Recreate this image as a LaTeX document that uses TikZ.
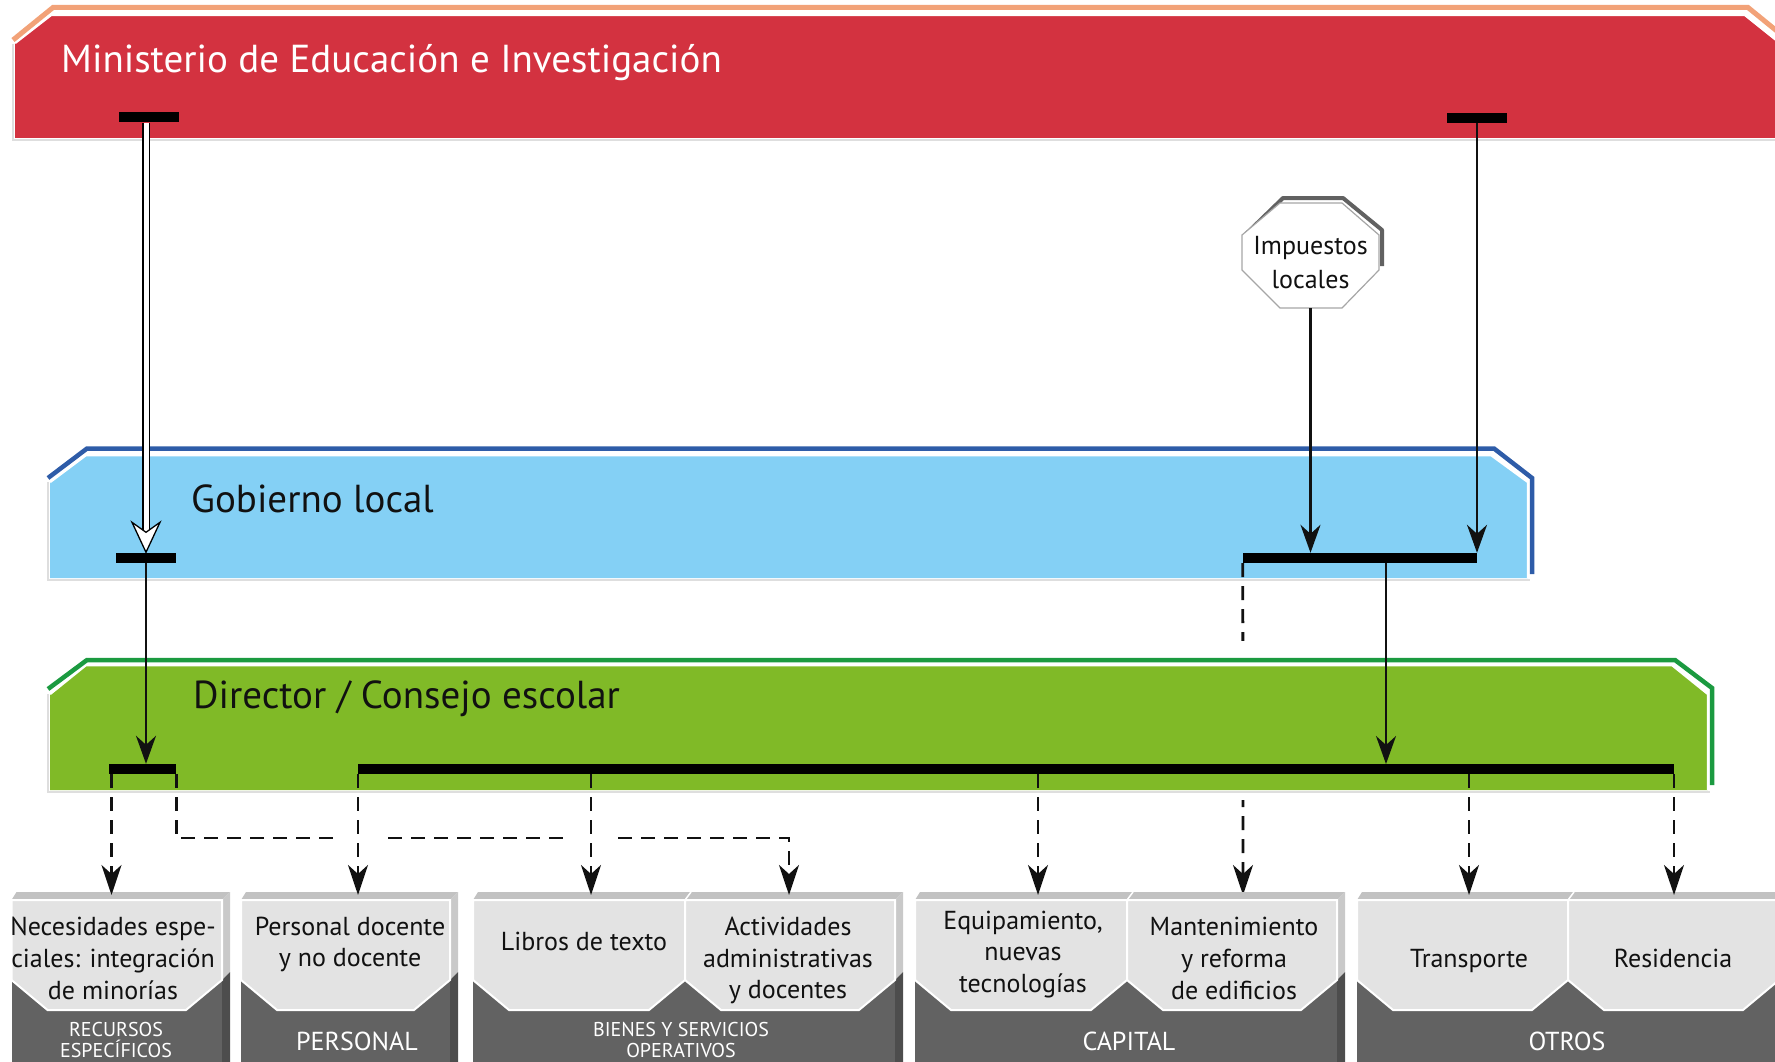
\documentclass[tikz,border=0pt]{standalone}
\usepackage{fontspec}
\setmainfont{PT Sans}
\usetikzlibrary{arrows.meta}
\definecolor{redfill}{HTML}{D33240}
\definecolor{orangeline}{HTML}{F2A278}
\definecolor{bluefill}{HTML}{84D0F5}
\definecolor{blueline}{HTML}{2E5CA8}
\definecolor{greenfill}{HTML}{80BA27}
\definecolor{greenline}{HTML}{1B9A40}
\definecolor{facelight}{HTML}{E3E3E3}
\definecolor{facedark}{HTML}{626262}
\definecolor{sidedark}{HTML}{4D4D4D}
\definecolor{sidelight}{HTML}{C9C9C9}
\definecolor{toplight}{HTML}{C2C2C2}
\definecolor{shadowgray}{HTML}{DEDEDE}
\definecolor{inkblack}{HTML}{111111}
\newcommand{\boxbody}[2]{%
  \fill[facedark] (#1,900) rectangle (#2,1070);
  \fill[toplight] (#1,900) -- (#1+5,892) -- (#2+8,892) -- (#2,900) -- cycle;
  \fill[sidelight] (#2,900) -- (#2+8,892) -- (#2+8,972) -- (#2,980) -- cycle;
  \fill[sidedark] (#2,980) -- (#2+8,972) -- (#2+8,1070) -- (#2,1070) -- cycle;
}
\newcommand{\panelshape}[2]{%
  \draw[white, line width=2pt, fill=facelight] (#1,900) -- (#2,900) -- (#2,980) -- (#2-36,1010) -- (#1+36,1010) -- (#1,980) -- cycle;
}
\newcommand{\bevelcut}[1]{%
  \draw[white, line width=1.5pt] (#1,900) -- (#1+6,892);
}
\begin{document}
\begin{tikzpicture}[x=1pt,y=-1pt,
  bandtitle/.style={font=\fontsize{39}{43}\selectfont, inner sep=0, anchor=base west},
  bar/.style={fill=black, draw=none, inner sep=0, minimum height=10pt},
  arr/.style={line width=2.2pt, draw=inkblack, -{Stealth[length=28pt,width=20pt,inset=9pt]}},
  darr/.style={line width=2.8pt, draw=inkblack, dash pattern=on 14pt off 9pt, -{Stealth[length=30pt,width=20pt,inset=9pt]}},
  boxtxt/.style={align=center, font=\fontsize{26}{31.7}\selectfont, inner sep=0, text=inkblack},
  cattxt/.style={align=center, font=\fontsize{26}{29}\selectfont, inner sep=0, text=white},
  smalltxt/.style={align=center, font=\fontsize{20}{21}\selectfont, inner sep=0, text=white},
]
\useasboundingbox (0,0) rectangle (1775,1062);
\clip (0,0) rectangle (1775,1062);

% ---- red band
\fill[redfill] (15,138) -- (15,43) -- (51,15) -- (1745,15) -- (1810,67) -- (1810,138) -- cycle;
\draw[white, line width=2.5pt] (15,43) -- (51,15) -- (1745,15) -- (1810,67);
\draw[orangeline, line width=5pt] (13,40) -- (53,7.5) -- (1748,7.5) -- (1810,58);
\draw[shadowgray, line width=2pt] (13,44) -- (13,140) -- (1775,140);
\node[bandtitle, text=white] (ministerio) at (61,73) {Ministerio de Educación e Investigación};

% ---- blue band
\fill[bluefill] (50,578) -- (50,482) -- (86,455) -- (1491,455) -- (1528,482) -- (1528,578) -- cycle;
\draw[white, line width=2.5pt] (50,482) -- (86,455) -- (1491,455) -- (1528,482) -- (1528,578);
\draw[blueline, line width=4.5pt] (48,478) -- (87,448.5) -- (1494,448.5) -- (1532,478) -- (1532,574);
\draw[shadowgray, line width=2pt] (48,482) -- (48,580) -- (1530,580);
\node[bandtitle, text=inkblack] (gobierno) at (191,512) {Gobierno local};

% ---- bars in red and blue bands
\node[bar, minimum width=60pt] (rbL) at (149,117.5) {};
\node[bar, minimum width=60pt] (rbR) at (1477,118) {};
\node[bar, minimum width=60pt] (bbL) at (146,557.5) {};
\node[bar, minimum width=234pt] (bbR) at (1360,558) {};

% ---- targets on the boxes
\coordinate (t-nec) at (111.5,895);
\coordinate (t-per) at (358,895);
\coordinate (t-lib) at (591,895);
\coordinate (t-act) at (789,895);
\coordinate (t-equ) at (1038,895);
\coordinate (t-man) at (1243,895);
\coordinate (t-tra) at (1469,895);
\coordinate (t-res) at (1674,895);
\coordinate (hline) at (0,838);
\coordinate (gbin) at (1386,764);

% dashed connector from local government to building maintenance (passes behind the green band)
\draw[darr] (bbR.south west) -- (t-man);
\fill[white] (1230,641) rectangle (1256,800);

% ---- green band
\fill[greenfill] (50,790) -- (50,694) -- (86,665) -- (1672,665) -- (1708,694) -- (1708,790) -- cycle;
\draw[white, line width=2.5pt] (50,694) -- (86,665) -- (1672,665) -- (1708,694) -- (1708,790);
\draw[greenline, line width=4.5pt] (48,689) -- (87,660) -- (1675,660) -- (1712,688) -- (1712,785);
\draw[shadowgray, line width=2pt] (48,694) -- (48,792) -- (1710,792);
\node[bandtitle, text=inkblack] (director) at (193,708) {Director / Consejo escolar};

\node[bar, minimum width=67pt] (gbS) at (142.5,769) {};
\node[bar, minimum width=1316pt] (gbB) at (1016,769) {};

% ---- Impuestos locales
\draw[black!62, line width=4pt, line join=round] (1246,234) -- (1283,198) -- (1343,198) -- (1382,230) -- (1382,266);
\draw[black!35, line width=1.2pt, fill=white] (1280,203) -- (1342,203) -- (1379,235) -- (1379,270) -- (1342,308) -- (1280,308) -- (1242,270) -- (1242,235) -- cycle;
\node[minimum width=137pt, minimum height=105pt, inner sep=0] (imp) at (1310.5,255.5) {};
\node[boxtxt, font=\fontsize{26}{34}\selectfont] (imptxt) at (1310.5,263) {Impuestos\\locales};

% ---- boxes
\boxbody{11.5}{222}
\panelshape{11.5}{222}
\boxbody{241}{450}
\panelshape{241}{450}
\boxbody{473}{895}
\panelshape{473}{685}
\panelshape{685}{895}
\bevelcut{685}
\boxbody{915}{1337}
\panelshape{915}{1127}
\panelshape{1127}{1337}
\bevelcut{1127}
\boxbody{1357}{1779}
\panelshape{1357}{1568}
\panelshape{1568}{1779}
\bevelcut{1568}

\node[boxtxt] (nec) at (113,958.5) {Necesidades espe-\\ciales: integración\\de minorías};
\node[boxtxt] (per) at (350,944.5) {Personal docente\\y no docente};
\node[boxtxt] (lib) at (584,941) {Libros de texto};
\node[boxtxt] (act) at (788,960.5) {Actividades\\administrativas\\y docentes};
\node[boxtxt] (equ) at (1023,954.5) {Equipamiento,\\nuevas\\tecnologías};
\node[boxtxt] (man) at (1234,958.5) {Mantenimiento\\y reforma\\de edificios};
\node[boxtxt] (tra) at (1469,960.5) {Transporte};
\node[boxtxt] (res) at (1673,958) {Residencia};

\node[smalltxt] (c-rec) at (116,1040) {RECURSOS\\ESPECÍFICOS};
\node[cattxt] (c-per) at (357,1041.5) {PERSONAL};
\node[smalltxt] (c-bie) at (681,1040) {BIENES Y SERVICIOS\\OPERATIVOS};
\node[cattxt] (c-cap) at (1129,1041.5) {CAPITAL};
\node[cattxt] (c-otr) at (1567,1041.5) {OTROS};

% ---- connectors
\draw[line width=1.4pt, double=white, double distance=5pt] (rbL.south -| bbL.north) -- ([yshift=18pt]bbL.north);
\draw[line width=1.3pt, fill=white, line join=miter] (bbL.north) -- ++(-14,-30) -- ++(14,10) -- ++(14,-10) -- cycle;

\draw[arr] (rbR.south) -- (rbR.south |- bbR.north);
\draw[arr] (imp.south) -- (imp.south |- bbR.north);
\draw[arr] (bbL.south) -- (bbL.south |- gbS.north);
\draw[arr] (bbR.south -| gbin) -- (gbin);

\draw[darr] (gbS.south east) -- (gbS.south east |- hline) -- (t-act |- hline) -- (t-act);
\path (t-per |- hline) coordinate (x-per) (t-lib |- hline) coordinate (x-lib);
\draw[white, line width=6pt] ([xshift=-18pt]x-per) -- ([xshift=26pt]x-per);
\draw[white, line width=6pt] ([xshift=-26pt]x-lib) -- ([xshift=22pt]x-lib);

\draw[darr] (gbS.south -| t-nec) -- (t-nec);
\draw[darr] (gbB.south -| t-per) -- (t-per);
\draw[darr] (gbB.south -| t-lib) -- (t-lib);
\draw[darr] (gbB.south -| t-equ) -- (t-equ);
\draw[darr] (gbB.south -| t-tra) -- (t-tra);
\draw[darr] (gbB.south -| t-res) -- (t-res);
\end{tikzpicture}
\end{document}
